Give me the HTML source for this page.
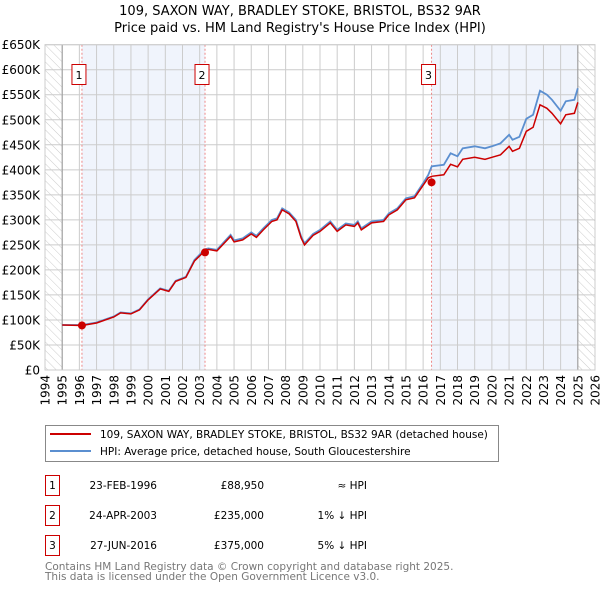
<!DOCTYPE html>
<html><head><meta charset="utf-8"><style>
body{margin:0;background:#fff;width:600px;height:590px;overflow:hidden;font-family:"DejaVu Sans","Liberation Sans",sans-serif}
svg{position:absolute;left:0;top:0}
</style></head><body>
<svg id="chart" width="600" height="590" xmlns="http://www.w3.org/2000/svg" font-family="DejaVu Sans, Liberation Sans, sans-serif">
<defs><pattern id="hatch" patternUnits="userSpaceOnUse" width="6" height="6" patternTransform="rotate(-45)"><line x1="0" y1="0" x2="0" y2="6" stroke="#ccc" stroke-width="1"/></pattern></defs>
<text x="300" y="15" text-anchor="middle" font-size="13">109, SAXON WAY, BRADLEY STOKE, BRISTOL, BS32 9AR</text>
<text x="300" y="32" text-anchor="middle" font-size="13">Price paid vs. HM Land Registry's House Price Index (HPI)</text>
<g id="plot"></g>
<g>
<rect x="45.5" y="425.5" width="453" height="36" fill="#fff" stroke="#888"/>
<line x1="50" y1="434" x2="91" y2="434" stroke="#cc0000" stroke-width="2"/>
<text x="100" y="438" font-size="10.5">109, SAXON WAY, BRADLEY STOKE, BRISTOL, BS32 9AR (detached house)</text>
<line x1="50" y1="451" x2="91" y2="451" stroke="#5b8fd0" stroke-width="2"/>
<text x="100" y="455" font-size="10.5">HPI: Average price, detached house, South Gloucestershire</text>
</g>
<g font-size="10.5">
<rect x="45.5" y="475.5" width="14" height="20" fill="#fff" stroke="#cc0000"/><text x="52.5" y="489" text-anchor="middle">1</text>
<text x="157" y="489" text-anchor="end">23-FEB-1996</text><text x="264" y="489" text-anchor="end">£88,950</text><text x="367" y="489" text-anchor="end">≈ HPI</text>
<rect x="45.5" y="505.5" width="14" height="20" fill="#fff" stroke="#cc0000"/><text x="52.5" y="519" text-anchor="middle">2</text>
<text x="157" y="519" text-anchor="end">24-APR-2003</text><text x="264" y="519" text-anchor="end">£235,000</text><text x="367" y="519" text-anchor="end">1% ↓ HPI</text>
<rect x="45.5" y="535.5" width="14" height="20" fill="#fff" stroke="#cc0000"/><text x="52.5" y="549" text-anchor="middle">3</text>
<text x="157" y="549" text-anchor="end">27-JUN-2016</text><text x="264" y="549" text-anchor="end">£375,000</text><text x="367" y="549" text-anchor="end">5% ↓ HPI</text>
</g>
<text x="45" y="570" font-size="10.5" fill="#777">Contains HM Land Registry data © Crown copyright and database right 2025.</text>
<text x="45" y="580" font-size="10.5" fill="#777">This data is licensed under the Open Government Licence v3.0.</text>
</svg>
<script>
const years=[1995,1996.15,1997,1998,1998.4,1999,1999.5,2000,2000.7,2001.2,2001.6,2002.2,2002.7,2003.3,2003.5,2004,2004.8,2005,2005.5,2006,2006.3,2006.7,2007.2,2007.5,2007.8,2008.2,2008.6,2008.9,2009.1,2009.6,2010,2010.6,2011,2011.5,2012,2012.2,2012.4,2013,2013.7,2014,2014.5,2015,2015.5,2016,2016.3,2016.5,2017.2,2017.6,2018,2018.3,2019,2019.6,2020,2020.5,2021,2021.2,2021.6,2022,2022.4,2022.8,2023.2,2023.5,2024,2024.3,2024.8,2025];
const hpiValues=[90,90,95,107,115,113,121,141,163,158,178,186,220,241,243,240,270,259,263,275,268,283,300,303,323,315,300,267,253,272,280,297,280,293,290,297,283,297,300,313,323,343,347,373,390,407,410,433,427,443,447,443,447,453,470,460,466,502,510,558,550,540,518,537,540,563];
const priceValues=[90,89,94,106,114,112,120,140,162,157,177,185,218,238,241,238,267,256,260,272,265,280,297,300,320,312,297,264,250,269,277,294,277,290,287,294,280,294,297,310,320,340,344,369,384,387,390,411,406,421,425,421,425,430,447,437,443,477,485,530,523,513,492,510,513,535];
const saleYears=[1996.15,2003.31,2016.49];
const saleValues=[88.95,235,375];
const yTicks=[0,50,100,150,200,250,300,350,400,450,500,550,600,650];
const xTicks=[1994,1995,1996,1997,1998,1999,2000,2001,2002,2003,2004,2005,2006,2007,2008,2009,2010,2011,2012,2013,2014,2015,2016,2017,2018,2019,2020,2021,2022,2023,2024,2025,2026];
const X0=45,X1=595,Y0=370,Y1=44.7;
const xs=y=>X0+(y-1994)/32*(X1-X0);
const ys=v=>Y0-v/650*(Y0-Y1);
const NS="http://www.w3.org/2000/svg";
const g=document.getElementById('plot');
function mk(tag,attrs,parent){const e=document.createElementNS(NS,tag);for(const k in attrs)e.setAttribute(k,attrs[k]);(parent||g).appendChild(e);return e;}
let e;
e=mk('rect',{x:xs(saleYears[0]),y:Y1,width:xs(saleYears[1])-xs(saleYears[0]),height:Y0-Y1,fill:'#f0f4fc'});


e=mk('rect',{x:xs(saleYears[2]),y:Y1,width:xs(2025)-xs(saleYears[2]),height:Y0-Y1,fill:'#f0f4fc'});


e=mk('rect',{x:X0,y:Y1,width:xs(1995)-X0,height:Y0-Y1,fill:'url(#hatch)'});


e=mk('rect',{x:xs(2025),y:Y1,width:X1-xs(2025),height:Y0-Y1,fill:'url(#hatch)'});


yTicks.forEach(v=>{
 e=mk('line',{x1:X0,x2:X1,y1:ys(v),y2:ys(v),stroke:'#ccc','stroke-width':1});
 
 
 e=mk('text',{x:40,y:ys(v)+4.5,'text-anchor':'end','font-size':12});
 e.textContent=v===0?'£0':'£'+v+'K';
 
 
});
xTicks.forEach(t=>{
 e=mk('line',{x1:xs(t),x2:xs(t),y1:Y1,y2:Y0,stroke:'#ccc','stroke-width':1});
 
 
 e=mk('text',{x:0,y:0,'font-size':12,transform:`translate(${xs(t)+4.5},${Y0+5}) rotate(-90)`,'text-anchor':'end'});
 e.textContent=t;
 
 
});
e=mk('line',{x1:xs(1995),x2:xs(1995),y1:Y1,y2:Y0,stroke:'#999','stroke-width':1});


e=mk('line',{x1:xs(2025),x2:xs(2025),y1:Y1,y2:Y0,stroke:'#999','stroke-width':1});


saleYears.forEach((s,i)=>{
 e=mk('line',{x1:xs(s),x2:xs(s),y1:Y1,y2:Y0,stroke:'#e88','stroke-width':1,'stroke-dasharray':'2,2'});
 
 
 e=mk('rect',{x:xs(s)-10,y:64.5,width:14,height:20,fill:'#fff',stroke:'#cc0000'});
 
 
 e=mk('text',{x:xs(s)-3,y:79,'text-anchor':'middle','font-size':11});
 e.textContent=String(i+1);
 
 
});
const pts=(arr)=>years.map((y,i)=>xs(y).toFixed(1)+','+ys(arr[i]).toFixed(1)).join(' ');
e=mk('polyline',{points:pts(hpiValues),fill:'none',stroke:'#5b8fd0','stroke-width':1.8});


e=mk('polyline',{points:pts(priceValues),fill:'none',stroke:'#cc0000','stroke-width':1.5});


saleYears.forEach((s,i)=>{
 e=mk('circle',{cx:xs(s),cy:ys(saleValues[i]),r:4,fill:'#cc0000'});
 
 
});
e=mk('rect',{x:X0,y:Y1,width:X1-X0,height:Y0-Y1,fill:'none',stroke:'#ccc'});


</script>
</body></html>
